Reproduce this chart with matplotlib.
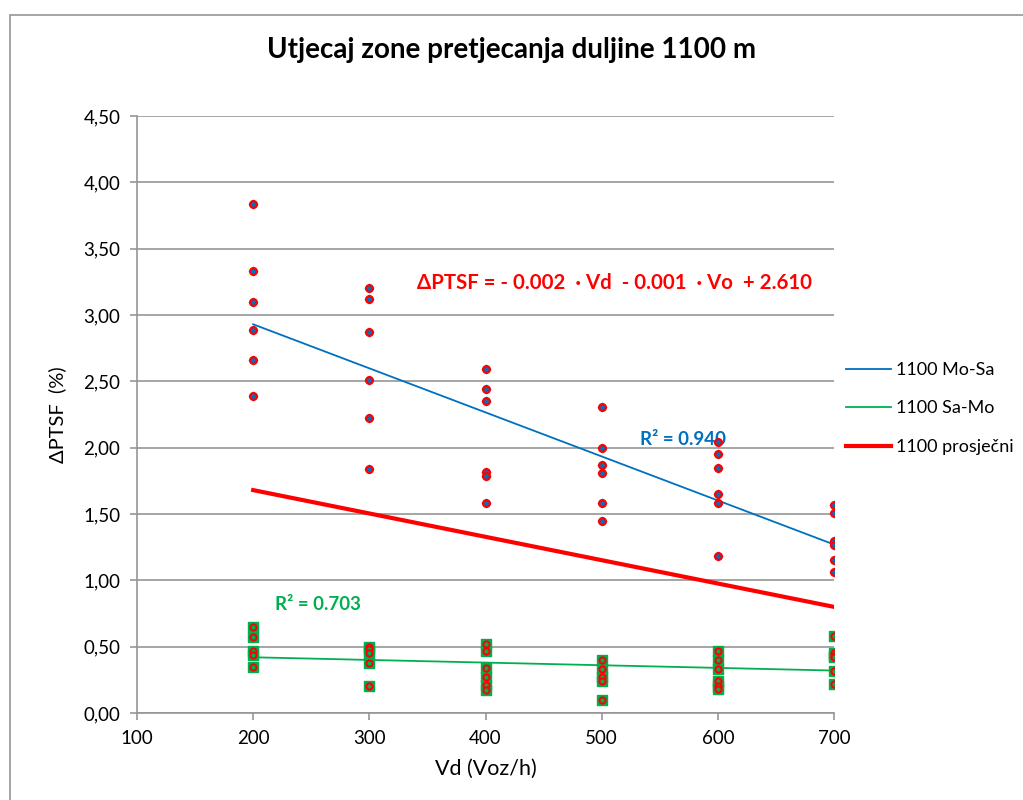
import numpy as np
import matplotlib
matplotlib.use("Agg")
import matplotlib.pyplot as plt
from matplotlib.patches import Rectangle

plt.rcParams["font.family"] = ["Lato", "DejaVu Sans"]

# ---- data ----
vd_mosa = [200] * 6 + [300] * 6 + [400] * 6 + [500] * 6 + [600] * 6 + [700] * 6
ptsf_mosa = [3.84, 3.33, 3.10, 2.89, 2.66, 2.39,
             3.20, 3.12, 2.87, 2.51, 2.22, 1.84,
             2.59, 2.44, 2.35, 1.82, 1.79, 1.58,
             2.31, 2.00, 1.87, 1.81, 1.58, 1.45,
             2.04, 1.95, 1.85, 1.65, 1.58, 1.18,
             1.57, 1.51, 1.30, 1.27, 1.15, 1.06]

vd_samo = [200] * 5 + [300] * 5 + [400] * 6 + [500] * 5 + [600] * 6 + [700] * 6
ptsf_samo = [0.65, 0.57, 0.47, 0.44, 0.35,
             0.50, 0.48, 0.45, 0.38, 0.20,
             0.52, 0.47, 0.34, 0.27, 0.21, 0.17,
             0.40, 0.33, 0.27, 0.24, 0.10,
             0.47, 0.40, 0.33, 0.24, 0.20, 0.18,
             0.58, 0.45, 0.43, 0.42, 0.32, 0.22]

trend_x = [200, 700]
trend_mosa = [2.93, 1.27]
trend_samo = [0.42, 0.32]
trend_avg = [1.68, 0.80]

yticks = np.arange(0, 4.51, 0.5)
xticks = [100, 200, 300, 400, 500, 600, 700]

blue = "#0070C0"
green = "#00B050"
red = "#FF0000"
grid_col = "#969696"

fig = plt.figure(figsize=(10.23, 8), dpi=100)
ax = fig.add_axes([137 / 1023, 1 - 713 / 800, (834 - 137) / 1023, (713 - 116) / 800])

ax.plot(trend_x, trend_mosa, color=blue, linewidth=1.3, label="1100 Mo-Sa", zorder=2)
ax.plot(trend_x, trend_samo, color=green, linewidth=1.3, label="1100 Sa-Mo", zorder=2)
ax.plot(trend_x, trend_avg, color=red, linewidth=3, label="1100 prosječni", zorder=2)

ax.scatter(vd_mosa, ptsf_mosa, marker="D", s=18, color=blue, zorder=3)
ax.scatter(vd_mosa, ptsf_mosa, marker="o", s=24, facecolor=blue,
           edgecolor=red, linewidth=1.6, zorder=4)
ax.scatter(vd_samo, ptsf_samo, marker="s", s=45, color=green, zorder=3)
ax.scatter(vd_samo, ptsf_samo, marker="o", s=20, facecolor=green,
           edgecolor=red, linewidth=1.5, zorder=4)

ax.set_xlim(100, 700)
ax.set_ylim(0, 4.5)
ax.set_xticks(xticks)
ax.set_yticks(yticks)
ax.set_yticklabels([f"{v:.2f}".replace(".", ",") for v in yticks])
ax.tick_params(axis="both", labelsize=13.5, color=grid_col, length=5, width=1.2, pad=7)
ax.grid(axis="y", color=grid_col, linewidth=1.2)
ax.set_axisbelow(True)
for side in ["top", "right"]:
    ax.spines[side].set_visible(False)
for side in ["left", "bottom"]:
    ax.spines[side].set_color(grid_col)
    ax.spines[side].set_linewidth(1.2)

ax.set_xlabel("Vd (Voz/h)", fontsize=15.5, labelpad=9)
ax.set_ylabel("ΔPTSF  (%)", fontsize=14.5, labelpad=12)

fig.text(0.5, 1 - 50 / 800, "Utjecaj zone pretjecanja duljine 1100 m",
         ha="center", va="center", fontsize=20, fontweight="bold")

ax.text(511, 3.24, "ΔPTSF = - 0.002  · Vd  - 0.001  · Vo  + 2.610",
        color=red, fontsize=14.7, fontweight="bold", ha="center", va="center")
ax.text(570, 2.06, "R² = 0.940", color=blue, fontsize=13.5, fontweight="bold",
        ha="center", va="center")
ax.text(256, 0.82, "R² = 0.703", color=green, fontsize=13.5, fontweight="bold",
        ha="center", va="center")

fig.legend(loc="upper left", bbox_to_anchor=(835 / 1023, 1 - 351 / 800),
           frameon=False, fontsize=13, handlelength=2.5, labelspacing=1.25,
           handletextpad=0.3, borderaxespad=0.2)

fig.add_artist(Rectangle((10 / 1023, -0.1), 1.2, 1.1 - 15 / 800,
                         transform=fig.transFigure, fill=False,
                         edgecolor=grid_col, linewidth=1.2))

fig.savefig("out.png", dpi=100)
